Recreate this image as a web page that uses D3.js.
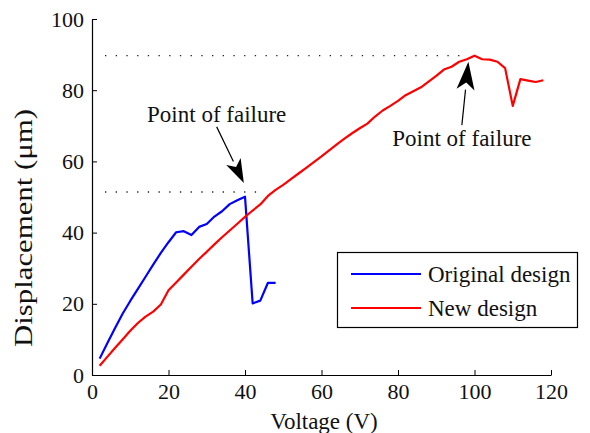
<!DOCTYPE html>
<html><head><meta charset="utf-8">
<script src="https://cdn.jsdelivr.net/npm/d3@7"></script>
<style>body{margin:0;background:#fff}svg{display:block}svg text{font-family:'Liberation Serif','Tinos','Times New Roman','DejaVu Serif',serif !important;fill:#111}</style>
</head><body>
<svg id="c" width="590" height="433"></svg>
<script>
const xTicks = [0,20,40,60,80,100,120];
const yTicks = [0,20,40,60,80,100];
const origV = [2,4,6,8,10,12,14,16,18,20,22,24,26,28,30,32,34,36,38,40,42,44,46,48];
const origD = [4.6,8.9,13.1,17.2,20.8,24.2,27.6,31.0,34.3,37.3,40.1,40.4,39.3,41.6,42.4,44.5,46.0,48.0,49.1,50.1,20.1,20.9,25.9,25.9];
const newV = [2,4,6,8,10,12,14,16,18,20,22,24,26,28,30,32,34,36,38,40,42,44,46,48,50,52,54,56,58,60,62,64,66,68,70,72,74,76,78,80,82,84,86,88,90,92,94,96,98,100,102,104,106,108,110,112,114,116,118];
const newD = [2.6,5.1,7.6,10.0,12.4,14.6,16.4,17.8,19.8,23.8,26.0,28.2,30.4,32.6,34.6,36.7,38.7,40.6,42.5,44.4,46.2,47.9,50.3,52.0,53.4,55.0,56.6,58.2,59.8,61.4,63.1,64.8,66.4,67.9,69.3,70.6,72.6,74.3,75.6,77.0,78.6,79.7,80.8,82.4,84.0,85.8,86.6,88.0,88.7,89.7,88.7,88.6,88.0,86.2,75.6,83.1,82.7,82.3,82.8];
const seriesNames = ["Original design","New design"];
const annText = "Point of failure";

const FF = "Liberation Serif, Tinos, Times New Roman, DejaVu Serif, serif";
const svg = d3.select("#c");
const x = d3.scaleLinear().domain([0,120]).range([92,551]);
const y = d3.scaleLinear().domain([0,100]).range([375,19]);

// axes
const xa = svg.append("g").attr("transform","translate(0,375)")
  .call(d3.axisBottom(x).tickValues(xTicks).tickSizeInner(-5).tickSizeOuter(0).tickPadding(10));
const ya = svg.append("g").attr("transform","translate(92,0)")
  .call(d3.axisLeft(y).tickValues(yTicks).tickSizeInner(-5).tickSizeOuter(0).tickPadding(10));
[xa,ya].forEach(g=>{
  g.attr("font-family",FF);
  g.select(".domain").attr("stroke","#000").attr("stroke-width",1.2);
  g.selectAll(".tick line").attr("stroke","#000").attr("stroke-width",1);
  g.selectAll(".tick text").attr("font-size",22).attr("font-family",FF).attr("fill","#111");
});
xa.selectAll(".tick text").attr("dy","0.72em").attr("y",8);
ya.selectAll(".tick text").attr("x",-8);

// labels
svg.append("text").attr("x",324).attr("y",429).attr("text-anchor","middle").attr("font-family",FF).attr("font-size",23).text("Voltage (V)");
svg.append("text").attr("transform","translate(32,228) rotate(-90)").attr("text-anchor","middle")
  .attr("font-family",FF).attr("font-size",25).attr("textLength",238).attr("lengthAdjust","spacingAndGlyphs")
  .text("Displacement (\u03bcm)");

// dotted guides
const dots = [[3.4,43.1,51.4],[3.4,97,89.7]];
dots.forEach(d=>{
  svg.append("line").attr("x1",x(d[0])).attr("x2",x(d[1])).attr("y1",y(d[2])).attr("y2",y(d[2]))
    .attr("stroke","#222").attr("stroke-width",1.3).attr("stroke-dasharray","1.3,9.4");
});

// lines
const line = d3.line().x(d=>x(d[0])).y(d=>y(d[1]));
svg.append("path").datum(origV.map((v,i)=>[v,origD[i]])).attr("d",line)
  .attr("fill","none").attr("stroke","#0000ff").attr("stroke-width",2.2).attr("stroke-linejoin","round");
svg.append("path").datum(newV.map((v,i)=>[v,newD[i]])).attr("d",line)
  .attr("fill","none").attr("stroke","#ff0000").attr("stroke-width",2.2).attr("stroke-linejoin","round");

// annotations
function arrow(t0,t1,h0,h1,hl,hw){
  const x0=x(t0),y0=y(t1),x1=x(h0),y1=y(h1);
  const dx=x1-x0,dy=y1-y0,L=Math.hypot(dx,dy),ux=dx/L,uy=dy/L;
  const bx=x1-ux*hl,by=y1-uy*hl;
  svg.append("line").attr("x1",x0).attr("y1",y0).attr("x2",bx).attr("y2",by).attr("stroke","#000").attr("stroke-width",1.2);
  svg.append("path").attr("d",`M${x1},${y1}L${bx-uy*hw/2},${by+ux*hw/2}L${bx+ux*hl*0.25},${by+uy*hl*0.25}L${bx+uy*hw/2},${by-ux*hw/2}Z`).attr("fill","#000");
}
arrow(32.6,69.7,39.7,53.9,24,16);
arrow(96.7,70.2,98.4,88.0,28,18);
svg.append("text").attr("x",x(32.6)).attr("y",y(71.2)).attr("text-anchor","middle").attr("font-family",FF).attr("font-size",23).text(annText);
svg.append("text").attr("x",x(96.7)).attr("y",y(64.4)).attr("text-anchor","middle").attr("font-family",FF).attr("font-size",23).text(annText);

// legend
const lg = svg.append("g");
lg.append("rect").attr("x",337.5).attr("y",252.5).attr("width",240).attr("height",75)
  .attr("fill","#fff").attr("stroke","#000").attr("stroke-width",1.2);
const colors=["#0000ff","#ff0000"];
seriesNames.forEach((n,i)=>{
  const yy=274+i*34;
  lg.append("line").attr("x1",351).attr("x2",421).attr("y1",yy).attr("y2",yy).attr("stroke",colors[i]).attr("stroke-width",2.2);
  lg.append("text").attr("x",428).attr("y",yy+8).attr("font-family",FF).attr("font-size",23).text(n);
});
</script>
</body></html>
